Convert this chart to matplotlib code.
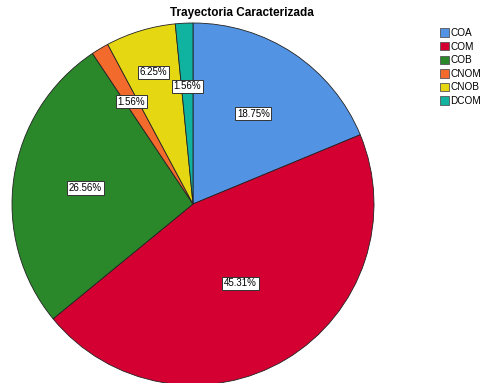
import matplotlib.pyplot as plt
import numpy as np

plt.rcParams['font.family'] = ['Liberation Sans', 'DejaVu Sans']

categorias = ['COA', 'COM', 'COB', 'CNOM', 'CNOB', 'DCOM']
porcentajes = [18.75, 45.31, 26.56, 1.56, 6.25, 1.56]
colores = ['#5393E3', '#D50032', '#2A882B', '#F26B2C', '#E5D712', '#10B3A0']
# distancia radial de cada etiqueta
dist_etiq = [0.60, 0.51, 0.60, 0.66, 0.76, 0.65]

W, H = 481, 383
fig = plt.figure(figsize=(W / 100, H / 100), dpi=100)

cx, cy, r = 193, 204, 181
ax = fig.add_axes([(cx - r) / W, (H - cy - r) / H, 2 * r / W, 2 * r / H])

wedges, _ = ax.pie(porcentajes, colors=colores, startangle=90, counterclock=False,
                   radius=1, wedgeprops=dict(edgecolor='#222222', linewidth=0.6))
ax.set_xlim(-1, 1)
ax.set_ylim(-1, 1)
ax.set_aspect('equal')
ax.axis('off')

for w, p, d in zip(wedges, porcentajes, dist_etiq):
    ang = np.deg2rad((w.theta1 + w.theta2) / 2)
    ax.text(d * np.cos(ang), d * np.sin(ang), f'{p:.2f}%', ha='center', va='center',
            fontsize=7, bbox=dict(facecolor='white', edgecolor='#333333',
                                  linewidth=0.7, pad=1.2))

fig.text(242 / W, 1 - 13 / H, 'Trayectoria Caracterizada', ha='center', va='center',
         fontsize=8.5, fontweight='bold')

leg = fig.legend(wedges, categorias, loc='upper left', bbox_to_anchor=(440 / W, 1 - 28 / H),
                 frameon=False, fontsize=7.2, handlelength=0.9, handleheight=0.9,
                 handletextpad=0.15, labelspacing=0.36, borderpad=0, borderaxespad=0)
for h in leg.legend_handles:
    h.set_edgecolor('#555555')
    h.set_linewidth(0.6)

fig.savefig('out.png', dpi=100)
